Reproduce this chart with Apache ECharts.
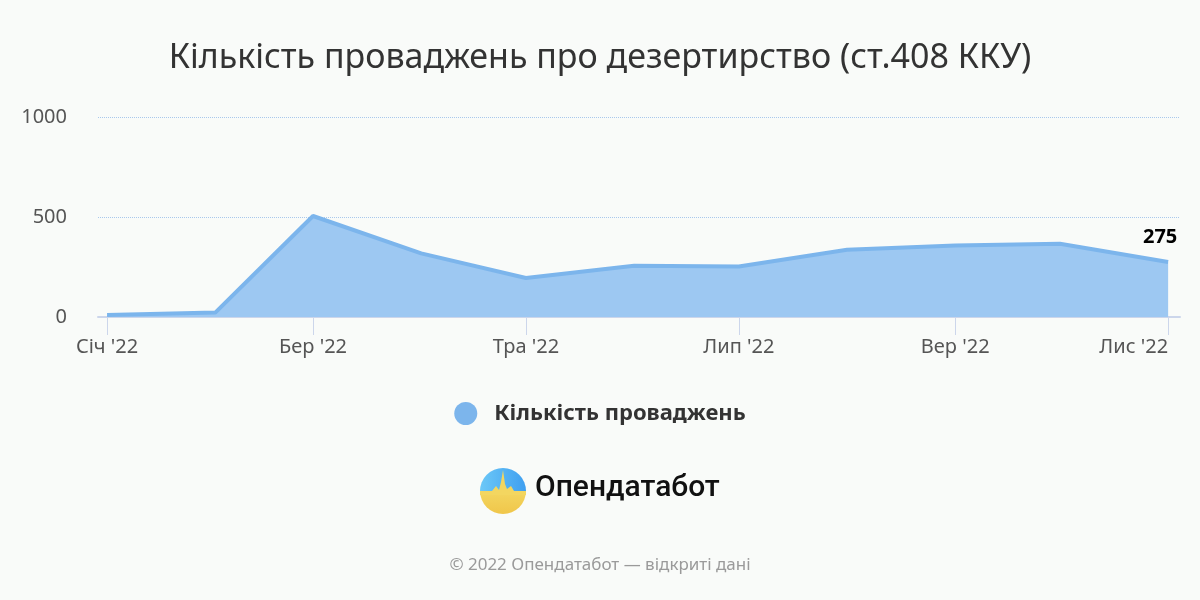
<!DOCTYPE html>
<html>
<head>
<meta charset="utf-8">
<script src="https://cdn.jsdelivr.net/npm/echarts@6/dist/echarts.min.js"></script>
<style>
html,body{margin:0;padding:0;background:#f9fbf9;overflow:hidden;}
#chart{width:1200px;height:600px;}
</style>
</head>
<body>
<div id="chart"></div>
<script>
const dates = ['2022-01-01','2022-02-01','2022-03-01','2022-04-01','2022-05-01','2022-06-01','2022-07-01','2022-08-01','2022-09-01','2022-10-01','2022-11-01'];
const monthNames = ['Січ','Лют','Бер','Кві','Тра','Чер','Лип','Сер','Вер','Жов','Лис','Гру'];
const cases = [10, 22, 505, 318, 195, 256, 253, 336, 357, 366, 275];
const tickDates = ['2022-01-01','2022-03-01','2022-05-01','2022-07-01','2022-09-01','2022-11-01'];
const yTicks = [0, 500, 1000];
const seriesName = 'Кількість проваджень';
const titleText = 'Кількість проваджень про дезертирство (ст.408 ККУ)';
const footerText = '© 2022 Опендатабот — відкриті дані';
const logoText = 'Опендатабот';

const DAY = 86400000;
const ts = d => Date.parse(d + 'T00:00:00Z');
const xs = dates.map(ts);
const tickTs = tickDates.map(ts);
const fmtMonth = v => {
  const d = new Date(v);
  return monthNames[d.getUTCMonth()] + " '" + String(d.getUTCFullYear()).slice(2);
};

const chart = echarts.init(document.getElementById('chart'), null, {renderer:'canvas', width:1200, height:600});
chart.setOption({
  backgroundColor:'#f9fbf9',
  animation:false,
  textStyle:{fontFamily:'Noto Sans'},
  title:{
    text:titleText, left:'center', top:36,
    textStyle:{fontFamily:'Noto Sans', fontSize:34, fontWeight:'normal', color:'#333'}
  },
  legend:{
    top:397, left:'center', icon:'circle', itemWidth:23, itemHeight:23, itemGap:10,
    textStyle:{fontFamily:'Noto Sans', fontSize:22, fontWeight:'bold', color:'#333', padding:[0,0,0,12]},
    data:[seriesName]
  },
  grid:{left:98, right:20, top:117, height:200, containLabel:false},
  xAxis:{
    type:'value', min:xs[0] - 2.6*DAY, max:xs[xs.length-1] + 3.4*DAY,
    axisLine:{show:true, onZero:false, lineStyle:{color:'#ccd6eb', width:2}},
    axisTick:{show:true, customValues:tickTs, length:18, lineStyle:{color:'#ccd6eb', width:1}},
    axisLabel:{customValues:tickTs, formatter:fmtMonth, margin:20, fontFamily:'Noto Sans', fontSize:20, color:'#555', alignMaxLabel:'right'},
    splitLine:{show:false}
  },
  yAxis:{
    type:'value', min:yTicks[0], max:yTicks[yTicks.length-1], interval:500,
    axisLine:{show:false}, axisTick:{show:false},
    axisLabel:{margin:31, fontFamily:'Noto Sans', fontSize:20, color:'#555', formatter:v=>String(v)},
    splitLine:{show:true, lineStyle:{color:'#a9c8ec', type:'dotted', width:1}}
  },
  series:[{
    name:seriesName, type:'line',
    symbol:'none', showSymbol:false,
    color:'#7cb5ec',
    lineStyle:{color:'#7cb5ec', width:4},
    areaStyle:{color:'#9dc8f2', opacity:1},
    data:xs.map((x,i)=>[x, cases[i]]),
    endLabel:{show:true, formatter:p=>String(p.value[1]), distance:0, align:'center', verticalAlign:'middle', offset:[-8,-25],
      fontFamily:'Noto Sans', fontSize:20, fontWeight:'bold', color:'#000'}
  }],
  graphic:[
    {type:'sector', shape:{cx:503, cy:491, r:23, r0:0, startAngle:Math.PI, endAngle:2*Math.PI},
     style:{fill:{type:'linear', x:0, y:0, x2:1, y2:0, colorStops:[{offset:0,color:'#6cc8f7'},{offset:1,color:'#3f9ff0'}]}}},
    {type:'sector', shape:{cx:503, cy:491, r:23, r0:0, startAngle:0, endAngle:Math.PI},
     style:{fill:{type:'linear', x:0, y:0, x2:0, y2:1, colorStops:[{offset:0,color:'#f3d660'},{offset:1,color:'#f0c64a'}]}}},
    {type:'polygon', shape:{points:[[480,492],[492,491],[496,486],[499,490],[501,482],[503,470],[505,484],[507,489],[511,486],[514,491],[526,491],[526,495],[480,495]]},
     style:{fill:'#f3d660'}},
    {type:'text', left:535, top:473, style:{text:logoText, fontFamily:'Roboto', fontWeight:500, fontSize:30, fill:'#111'}},
    {type:'text', left:'center', top:557, style:{text:footerText, fontFamily:'Noto Sans', fontSize:17, fill:'#9a9a9a'}}
  ]
});
</script>
</body>
</html>
